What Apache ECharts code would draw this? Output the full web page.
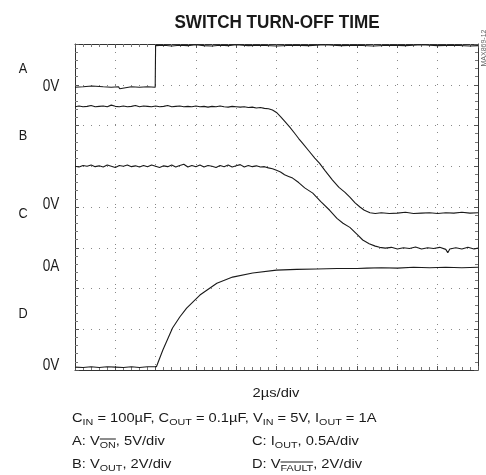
<!DOCTYPE html>
<html>
<head>
<meta charset="utf-8">
<script src="https://cdn.jsdelivr.net/npm/echarts@6/dist/echarts.min.js"></script>
<style>
  html, body { margin: 0; padding: 0; background: #fff; }
  #chart { width: 486px; height: 475px; }
</style>
</head>
<body>
<div id="chart"></div>
<script>
// scope traces, time in divisions (2us/div), level in divisions from bottom of screen
var traceA = [
  [0, 6.94], [0.2, 6.95], [0.42, 6.97], [0.45, 6.94], [0.7, 6.95], [0.9, 6.94],
  [1.08, 6.95], [1.11, 6.9], [1.14, 6.94], [1.4, 6.95], [1.6, 6.94], [1.8, 6.95], [1.99, 6.94],
  [2.0, 7.96], [2.2, 7.97], [2.4, 7.95], [2.6, 7.97], [2.8, 7.96], [3.0, 7.98], [3.2, 7.96],
  [3.4, 7.95], [3.6, 7.97], [3.8, 7.96], [4.0, 7.98], [4.3, 7.96], [4.6, 7.97], [5.0, 7.95],
  [5.4, 7.97], [5.8, 7.96], [6.2, 7.98], [6.6, 7.96], [7.0, 7.97], [7.4, 7.95], [7.8, 7.97],
  [8.2, 7.96], [8.6, 7.98], [9.0, 7.96], [9.4, 7.97], [9.8, 7.95], [10, 7.96]
];

var traceB = [
  [0, 6.46], [0.1, 6.48], [0.2, 6.46], [0.3, 6.47], [0.4, 6.49], [0.5, 6.46], [0.6, 6.47],
  [0.7, 6.48], [0.8, 6.46], [0.9, 6.5], [1.0, 6.47], [1.1, 6.46], [1.2, 6.48], [1.3, 6.46],
  [1.4, 6.47], [1.5, 6.49], [1.6, 6.46], [1.7, 6.48], [1.8, 6.47], [1.9, 6.46], [2.0, 6.48],
  [2.1, 6.46], [2.2, 6.47], [2.3, 6.49], [2.4, 6.46], [2.5, 6.47], [2.6, 6.48], [2.7, 6.46],
  [2.8, 6.47], [2.9, 6.46], [3.0, 6.48], [3.1, 6.46], [3.2, 6.47], [3.3, 6.45], [3.4, 6.47],
  [3.5, 6.46], [3.6, 6.48], [3.7, 6.46], [3.8, 6.45], [3.9, 6.47], [4.0, 6.46], [4.1, 6.45],
  [4.2, 6.46], [4.3, 6.44], [4.4, 6.45], [4.5, 6.43], [4.6, 6.44], [4.7, 6.42], [4.8, 6.41],
  [4.9, 6.38], [5.0, 6.32], [5.1, 6.22], [5.2, 6.11], [5.33, 5.96], [5.45, 5.81], [5.55, 5.68],
  [5.65, 5.56], [5.8, 5.38], [5.95, 5.2], [6.07, 5.07], [6.2, 4.9], [6.39, 4.66], [6.55, 4.48],
  [6.7, 4.36], [6.82, 4.24], [6.95, 4.1], [7.07, 4.0], [7.18, 3.92], [7.32, 3.86], [7.45, 3.84],
  [7.6, 3.86], [7.8, 3.84], [8.0, 3.85], [8.2, 3.87], [8.4, 3.84], [8.6, 3.85], [8.8, 3.86],
  [9.0, 3.84], [9.2, 3.86], [9.4, 3.85], [9.6, 3.87], [9.8, 3.85], [10, 3.86]
];

var traceC = [
  [0, 5.0], [0.1, 4.98], [0.2, 5.02], [0.3, 5.0], [0.4, 5.03], [0.5, 4.99], [0.6, 5.01],
  [0.7, 4.98], [0.8, 5.03], [0.9, 5.0], [1.0, 4.97], [1.1, 5.02], [1.2, 5.0], [1.3, 5.03],
  [1.4, 4.99], [1.5, 5.01], [1.6, 4.98], [1.7, 5.02], [1.8, 4.99], [1.9, 5.03], [2.0, 5.0],
  [2.1, 4.97], [2.2, 5.01], [2.3, 4.99], [2.4, 5.03], [2.5, 4.98], [2.6, 5.02], [2.7, 5.05],
  [2.8, 4.98], [2.9, 5.02], [3.0, 4.99], [3.1, 5.03], [3.2, 4.98], [3.3, 5.02], [3.4, 5.0],
  [3.5, 4.97], [3.6, 5.02], [3.7, 4.99], [3.8, 5.03], [3.9, 4.98], [4.0, 5.01], [4.1, 5.04],
  [4.2, 4.98], [4.3, 5.02], [4.4, 4.99], [4.5, 5.01], [4.6, 4.98], [4.7, 4.99], [4.8, 4.96],
  [4.9, 4.94], [5.0, 4.9], [5.1, 4.86], [5.2, 4.79], [5.3, 4.75], [5.4, 4.71], [5.55, 4.6],
  [5.7, 4.47], [5.9, 4.34], [6.1, 4.13], [6.32, 3.92], [6.5, 3.72], [6.65, 3.6], [6.82, 3.5],
  [7.0, 3.33], [7.14, 3.19], [7.3, 3.1], [7.45, 3.04], [7.56, 3.01], [7.7, 2.99], [7.85, 3.01],
  [8.0, 2.97], [8.15, 3.0], [8.3, 2.98], [8.45, 3.02], [8.6, 2.97], [8.75, 3.0], [8.9, 2.98],
  [9.05, 3.01], [9.2, 2.96], [9.25, 2.88], [9.3, 2.97], [9.45, 3.0], [9.6, 2.97], [9.75, 3.01],
  [9.9, 2.97], [10, 2.99]
];

var traceD = [
  [0, 0.07], [0.2, 0.06], [0.4, 0.08], [0.6, 0.06], [0.8, 0.08], [1.0, 0.07], [1.2, 0.06],
  [1.4, 0.08], [1.6, 0.06], [1.8, 0.08], [2.02, 0.08],
  [2.18, 0.49], [2.42, 1.03], [2.6, 1.3], [2.77, 1.52], [3.1, 1.84], [3.52, 2.13], [3.91, 2.28],
  [4.41, 2.38], [5.0, 2.45], [5.5, 2.47], [6.0, 2.48], [6.5, 2.49], [7.0, 2.49], [7.24, 2.5],
  [7.6, 2.51], [8.0, 2.5], [8.4, 2.52], [8.8, 2.51], [9.2, 2.52], [9.6, 2.51], [10, 2.52]
];

var channelLabels = [['A', 23, 69], ['B', 23, 136], ['C', 23, 214], ['D', 23, 314]];
var zeroLabels = [['0V', 51, 87], ['0V', 51, 205], ['0A', 51, 267], ['0V', 51, 366]];

// note lines: [x, y, [text, isSub, overline]...]
var notes = [
  [72, 418, [['C'], ['IN', 1], [' = 100µF, C'], ['OUT', 1], [' = 0.1µF, V'], ['IN', 1], [' = 5V, I'], ['OUT', 1], [' = 1A']]],
  [72, 441, [['A: V'], ['ON', 1, 1], [', 5V/div']]],
  [252, 441, [['C: I'], ['OUT', 1], [', 0.5A/div']]],
  [72, 464, [['B: V'], ['OUT', 1], [', 2V/div']]],
  [252, 464, [['D: V'], ['FAULT', 1, 1], [', 2V/div']]]
];

var chart = echarts.init(document.getElementById('chart'));
var FONT = '"Liberation Sans", Arial, sans-serif';
var MAIN_SIZE = 13, SUB_SIZE = 9.5, STRETCH = 1.13, NARROW = 0.85;
var ctx = document.createElement('canvas').getContext('2d');

function measure(txt, size) {
  ctx.font = size + 'px ' + FONT;
  return ctx.measureText(txt).width * STRETCH;
}

function label(txt, x, y, font, sx, align) {
  return { type: 'text', x: x, y: y, scaleX: sx,
    style: { text: txt, font: font, fill: '#1a1a1a', align: align || 'center', verticalAlign: 'middle' } };
}

var graphics = [];
channelLabels.forEach(function (l) {
  graphics.push(label(l[0], l[1], l[2], '15px ' + FONT, NARROW));
});
zeroLabels.forEach(function (l) {
  graphics.push(label(l[0], l[1], l[2], '16px ' + FONT, NARROW));
});
graphics.push(label('SWITCH TURN-OFF TIME', 277, 23, 'bold 19px ' + FONT, 0.9));
graphics.push(label('2µs/div', 276, 393, MAIN_SIZE + 'px ' + FONT, STRETCH));
graphics.push({ type: 'text', x: 484, y: 48, rotation: Math.PI / 2,
  style: { text: 'MAX869-12', font: '7px ' + FONT, fill: '#666', align: 'center', verticalAlign: 'middle' } });

notes.forEach(function (n) {
  var x = n[0], y = n[1];
  n[2].forEach(function (p) {
    var size = p[1] ? SUB_SIZE : MAIN_SIZE;
    var w = measure(p[0], size);
    graphics.push(label(p[0], x, p[1] ? y + 4 : y, size + 'px ' + FONT, STRETCH, 'left'));
    if (p[2]) {
      graphics.push({ type: 'line', shape: { x1: x, y1: y - 2, x2: x + w, y2: y - 2 },
        style: { stroke: '#1a1a1a', lineWidth: 1 } });
    }
    x += w;
  });
});

function axis(pos, showSplit, max) {
  return {
    type: 'value', position: pos, min: 0, max: max, interval: 1,
    axisLabel: { show: false },
    axisLine: { show: true, onZero: false, lineStyle: { color: '#333', width: 1 } },
    axisTick: { show: true, inside: true, length: 4, lineStyle: { color: '#555' } },
    minorTick: { show: true, splitNumber: 5, length: 3, lineStyle: { color: '#777' } },
    splitLine: { show: showSplit, lineStyle: { color: '#888', type: [1, 7] } }
  };
}

function trace(data) {
  return {
    type: 'line', data: data, symbol: 'none', animation: false,
    lineStyle: { color: '#1a1a1a', width: 1.1 }
  };
}

var option = {
  backgroundColor: '#fff',
  animation: false,
  grid: { left: 75, top: 44, right: 8, bottom: 105 },
  xAxis: [axis('bottom', true, 10), axis('top', false, 10)],
  yAxis: [axis('left', true, 8), axis('right', false, 8)],
  series: [trace(traceA), trace(traceB), trace(traceC), trace(traceD)],
  graphic: graphics
};

chart.setOption(option);
</script>
</body>
</html>
